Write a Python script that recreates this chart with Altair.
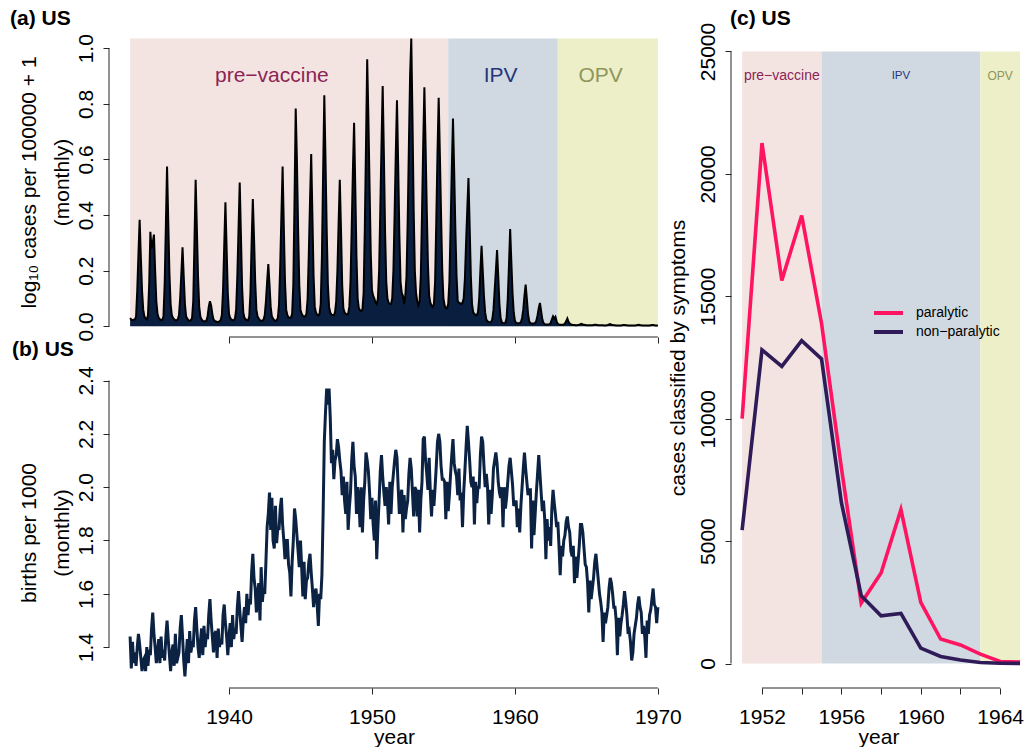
import altair as alt
import pandas as pd

FONT = "Liberation Sans"
AXIS_GREY = "#262626"

# ---------------------------------------------------------------- data
YEARS = list(range(1933, 1970))
MONTHS = list(range(1, 13))

# US monthly polio incidence, log10(cases per 100000 + 1); one line per year, Jan..Dec
cases_monthly = [
    0.030, 0.024, 0.022, 0.024, 0.025, 0.035, 0.130, 0.260, 0.383, 0.250, 0.130, 0.060,  # 1933
    0.035, 0.028, 0.025, 0.040, 0.150, 0.340, 0.280, 0.300, 0.330, 0.200, 0.090, 0.045,  # 1934
    0.030, 0.025, 0.022, 0.024, 0.035, 0.150, 0.360, 0.575, 0.380, 0.190, 0.080, 0.040,  # 1935
    0.030, 0.025, 0.022, 0.022, 0.025, 0.040, 0.100, 0.190, 0.284, 0.180, 0.080, 0.035,  # 1936
    0.028, 0.022, 0.020, 0.022, 0.030, 0.090, 0.300, 0.527, 0.360, 0.180, 0.070, 0.035,  # 1937
    0.025, 0.020, 0.018, 0.018, 0.020, 0.035, 0.070, 0.090, 0.075, 0.045, 0.025, 0.020,  # 1938
    0.018, 0.016, 0.016, 0.018, 0.022, 0.040, 0.130, 0.290, 0.446, 0.280, 0.120, 0.045,  # 1939
    0.030, 0.025, 0.022, 0.022, 0.028, 0.060, 0.180, 0.350, 0.517, 0.330, 0.140, 0.050,  # 1940
    0.030, 0.025, 0.022, 0.022, 0.035, 0.120, 0.300, 0.458, 0.320, 0.160, 0.060, 0.035,  # 1941
    0.028, 0.022, 0.020, 0.020, 0.025, 0.040, 0.090, 0.160, 0.224, 0.150, 0.070, 0.035,  # 1942
    0.028, 0.022, 0.020, 0.022, 0.030, 0.080, 0.220, 0.400, 0.575, 0.360, 0.160, 0.060,  # 1943
    0.040, 0.032, 0.030, 0.032, 0.045, 0.150, 0.450, 0.783, 0.600, 0.350, 0.150, 0.060,  # 1944
    0.045, 0.038, 0.035, 0.036, 0.045, 0.100, 0.260, 0.450, 0.620, 0.400, 0.180, 0.070,  # 1945
    0.050, 0.042, 0.040, 0.045, 0.080, 0.250, 0.550, 0.831, 0.600, 0.350, 0.150, 0.070,  # 1946
    0.050, 0.042, 0.040, 0.040, 0.050, 0.090, 0.200, 0.370, 0.527, 0.350, 0.150, 0.065,  # 1947
    0.050, 0.045, 0.042, 0.045, 0.070, 0.160, 0.350, 0.560, 0.732, 0.500, 0.250, 0.100,  # 1948
    0.065, 0.058, 0.055, 0.060, 0.120, 0.350, 0.650, 0.960, 0.750, 0.500, 0.260, 0.130,  # 1949
    0.110, 0.100, 0.085, 0.080, 0.100, 0.200, 0.420, 0.650, 0.864, 0.620, 0.340, 0.160,  # 1950
    0.100, 0.085, 0.080, 0.080, 0.100, 0.200, 0.400, 0.620, 0.813, 0.580, 0.330, 0.160,  # 1951
    0.120, 0.110, 0.080, 0.110, 0.180, 0.380, 0.650, 0.900, 1.035, 0.750, 0.420, 0.200,  # 1952
    0.120, 0.090, 0.076, 0.090, 0.180, 0.400, 0.650, 0.860, 0.650, 0.420, 0.220, 0.110,  # 1953
    0.085, 0.075, 0.070, 0.080, 0.160, 0.380, 0.620, 0.822, 0.620, 0.400, 0.200, 0.100,  # 1954
    0.075, 0.065, 0.065, 0.080, 0.160, 0.350, 0.560, 0.747, 0.560, 0.350, 0.180, 0.090,  # 1955
    0.085, 0.083, 0.080, 0.085, 0.100, 0.170, 0.300, 0.420, 0.533, 0.360, 0.180, 0.080,  # 1956
    0.050, 0.045, 0.040, 0.040, 0.050, 0.100, 0.200, 0.290, 0.200, 0.110, 0.050, 0.025,  # 1957
    0.018, 0.016, 0.015, 0.016, 0.025, 0.060, 0.130, 0.200, 0.274, 0.180, 0.080, 0.030,  # 1958
    0.014, 0.012, 0.011, 0.013, 0.030, 0.100, 0.220, 0.350, 0.230, 0.120, 0.050, 0.020,  # 1959
    0.012, 0.011, 0.011, 0.012, 0.015, 0.030, 0.060, 0.110, 0.150, 0.100, 0.045, 0.018,  # 1960
    0.011, 0.010, 0.010, 0.010, 0.012, 0.020, 0.040, 0.065, 0.084, 0.055, 0.025, 0.012,  # 1961
    0.008, 0.007, 0.007, 0.007, 0.008, 0.012, 0.025, 0.036, 0.028, 0.034, 0.018, 0.009,  # 1962
    0.007, 0.006, 0.006, 0.006, 0.007, 0.010, 0.018, 0.028, 0.016, 0.010, 0.007, 0.006,  # 1963
    0.005, 0.005, 0.004, 0.004, 0.005, 0.006, 0.008, 0.009, 0.007, 0.006, 0.005, 0.004,  # 1964
    0.004, 0.004, 0.004, 0.004, 0.004, 0.005, 0.006, 0.006, 0.005, 0.004, 0.004, 0.004,  # 1965
    0.004, 0.004, 0.003, 0.003, 0.004, 0.005, 0.007, 0.008, 0.006, 0.005, 0.004, 0.004,  # 1966
    0.003, 0.003, 0.003, 0.003, 0.003, 0.004, 0.005, 0.005, 0.004, 0.004, 0.003, 0.003,  # 1967
    0.003, 0.003, 0.003, 0.003, 0.003, 0.004, 0.005, 0.006, 0.004, 0.004, 0.003, 0.003,  # 1968
    0.003, 0.003, 0.003, 0.003, 0.003, 0.004, 0.005, 0.005, 0.004, 0.003, 0.003, 0.003,  # 1969
]

# US monthly births per 1000 population; one line per year, Jan..Dec
births_monthly = [
    1.44, 1.32, 1.42, 1.34, 1.38, 1.33, 1.40, 1.45, 1.41, 1.36, 1.31, 1.35,  # 1933
    1.36, 1.31, 1.40, 1.33, 1.39, 1.37, 1.47, 1.53, 1.45, 1.40, 1.34, 1.38,  # 1934
    1.43, 1.34, 1.44, 1.36, 1.39, 1.35, 1.44, 1.50, 1.43, 1.37, 1.31, 1.38,  # 1935
    1.41, 1.33, 1.45, 1.34, 1.36, 1.38, 1.47, 1.52, 1.44, 1.35, 1.29, 1.36,  # 1936
    1.43, 1.34, 1.46, 1.38, 1.41, 1.40, 1.50, 1.55, 1.47, 1.40, 1.36, 1.42,  # 1937
    1.47, 1.37, 1.48, 1.40, 1.45, 1.43, 1.52, 1.58, 1.50, 1.44, 1.38, 1.45,  # 1938
    1.46, 1.36, 1.47, 1.40, 1.43, 1.41, 1.52, 1.56, 1.49, 1.44, 1.37, 1.44,  # 1939
    1.49, 1.40, 1.52, 1.43, 1.47, 1.45, 1.55, 1.61, 1.54, 1.48, 1.42, 1.50,  # 1940
    1.55, 1.49, 1.60, 1.52, 1.58, 1.56, 1.68, 1.75, 1.66, 1.62, 1.53, 1.60,  # 1941
    1.64, 1.50, 1.70, 1.57, 1.62, 1.60, 1.72, 1.85, 1.90, 1.98, 1.84, 1.96,  # 1942
    1.80, 1.77, 1.93, 1.79, 1.85, 1.84, 1.92, 1.96, 1.86, 1.80, 1.73, 1.80,  # 1943
    1.80, 1.71, 1.68, 1.59, 1.72, 1.80, 1.92, 1.88, 1.82, 1.76, 1.70, 1.80,  # 1944
    1.70, 1.59, 1.72, 1.58, 1.65, 1.66, 1.72, 1.75, 1.68, 1.62, 1.55, 1.60,  # 1945
    1.62, 1.56, 1.48, 1.60, 1.58, 1.67, 1.90, 2.17, 2.28, 2.37, 2.31, 2.37,  # 1946
    2.26, 2.09, 2.14, 2.03, 2.10, 2.12, 2.18, 2.15, 2.10, 2.06, 1.97, 2.04,  # 1947
    1.95, 1.90, 2.02, 1.84, 1.92, 1.98, 2.10, 2.17, 2.08, 2.04, 1.90, 2.00,  # 1948
    1.96, 1.85, 2.00, 1.83, 1.95, 2.02, 2.13, 2.10, 2.06, 1.98, 1.88, 1.96,  # 1949
    1.86, 1.80, 1.95, 1.73, 1.85, 1.95, 2.06, 2.12, 2.04, 1.98, 1.93, 2.00,  # 1950
    1.95, 1.86, 2.02, 1.90, 2.00, 2.05, 2.10, 2.14, 2.11, 2.00, 1.90, 1.96,  # 1951
    1.99, 1.83, 1.97, 1.88, 1.92, 1.95, 2.05, 2.11, 2.07, 1.98, 1.89, 2.00,  # 1952
    1.99, 1.89, 1.99, 1.83, 1.95, 2.02, 2.18, 2.19, 2.10, 2.05, 1.99, 2.11,  # 1953
    1.98, 1.89, 1.99, 1.93, 2.00, 2.08, 2.17, 2.20, 2.17, 2.08, 2.03, 2.03,  # 1954
    2.02, 1.88, 2.02, 1.91, 1.97, 2.05, 2.12, 2.18, 2.09, 2.06, 2.04, 1.97,  # 1955
    2.07, 1.95, 1.98, 1.85, 1.98, 2.06, 2.15, 2.23, 2.17, 2.10, 2.02, 2.00,  # 1956
    2.04, 1.86, 2.02, 1.94, 2.00, 2.00, 2.12, 2.19, 2.17, 2.08, 2.00, 2.05,  # 1957
    2.00, 1.86, 1.99, 1.90, 1.97, 2.07, 2.10, 2.13, 2.09, 2.02, 1.98, 1.96,  # 1958
    2.00, 1.85, 2.00, 1.92, 1.96, 2.02, 2.08, 2.11, 2.06, 2.01, 1.93, 1.94,  # 1959
    1.95, 1.85, 1.92, 1.83, 1.93, 2.00, 2.07, 2.13, 2.07, 2.02, 1.97, 1.99,  # 1960
    1.99, 1.77, 1.95, 1.82, 1.90, 1.98, 2.05, 2.12, 2.05, 1.98, 1.91, 1.95,  # 1961
    1.88, 1.73, 1.88, 1.80, 1.85, 1.78, 1.92, 1.99, 1.94, 1.90, 1.85, 1.87,  # 1962
    1.78, 1.67, 1.78, 1.74, 1.80, 1.82, 1.87, 1.89, 1.85, 1.83, 1.76, 1.74,  # 1963
    1.78, 1.64, 1.74, 1.66, 1.72, 1.78, 1.86, 1.86, 1.83, 1.77, 1.71, 1.70,  # 1964
    1.64, 1.53, 1.65, 1.58, 1.62, 1.66, 1.72, 1.75, 1.70, 1.65, 1.60, 1.57,  # 1965
    1.53, 1.42, 1.53, 1.49, 1.52, 1.55, 1.62, 1.66, 1.64, 1.60, 1.55, 1.55,  # 1966
    1.50, 1.37, 1.51, 1.44, 1.49, 1.52, 1.56, 1.61, 1.57, 1.52, 1.45, 1.46,  # 1967
    1.42, 1.35, 1.38, 1.45, 1.48, 1.51, 1.56, 1.59, 1.55, 1.53, 1.45, 1.48,  # 1968
    1.44, 1.36, 1.50, 1.45, 1.52, 1.54, 1.58, 1.62, 1.56, 1.55, 1.49, 1.55,  # 1969
]

# US annual cases by symptom class
years_annual = list(range(1951, 1966))
paralytic = [10000, 21260, 15650, 18300, 13900, 8000, 2470, 3700, 6290, 2500,
             1000, 760, 385, 85, 60]
non_paralytic = [5450, 12810, 12140, 13190, 12440, 6580, 2770, 1950, 2045, 630,
                 290, 140, 40, 10, 5]

# vaccine eras
PERIODS = ["pre\u2212vaccine", "IPV", "OPV"]
period_start_monthly = [1933 + 1 / 12, 1955 + 4 / 12, 1963.0]
period_end_monthly = [1955 + 4 / 12, 1963.0, 1970.0]
period_label_x_monthly = [1943, 1959, 1966]
period_start_annual = [1951, 1955, 1963]
period_end_annual = [1955, 1963, 1965]
PERIOD_FILL = ["#F3E4E2", "#D0D9E2", "#EDEFC8"]
PERIOD_TEXT = ["#8B2454", "#26357A", "#8F955B"]
annual_label_size = [14, 11.5, 12]

PARALYTIC_COL = "#FF1461"
NONPARALYTIC_COL = "#2F1B57"
AREA_FILL = "#0A1F3F"
BIRTH_COL = "#0B2243"

# ---------------------------------------------------------------- layout (px)
# panels (a) and (b) share the left column; panel (c) is drawn in the same
# layer group as (a), on its own scales whose pixel ranges sit to the right.
A_W, A_H = 570, 310
B_H = 311
V_GAP = 40
C_X0, C_X1 = 622, 917          # horizontal pixel range of panel (c)
C_H = A_H + V_GAP + B_H        # panel (c) spans both rows
C_W = C_X1 - C_X0
Y_TITLE_X = -70                # first line of the two-line y titles


def r_range(lo, hi, frac=0.04):
    d = (hi - lo) * frac
    return [lo - d, hi + d]


times = [y + m / 12 for y in YEARS for m in MONTHS]
df_cases = pd.DataFrame({"t": times, "v": cases_monthly})
df_births = pd.DataFrame({"t": times, "v": births_monthly})
one = pd.DataFrame({"k": [0]})

x_scale_m = alt.Scale(domain=r_range(min(times), max(times)), nice=False, zero=False)


def title_text(label, dx, dy):
    return alt.Chart(pd.DataFrame({"txt": [label]})).mark_text(
        align="left", baseline="top", fontWeight="bold", fontSize=21,
        font=FONT, color="black"
    ).encode(x=alt.value(dx), y=alt.value(dy), text="txt:N")


def y_axis(values, fmt, title, height, title_x):
    return alt.Axis(
        values=values, format=fmt, title=title, titleAngle=270,
        titleAlign="center", titleBaseline="bottom", titleX=title_x,
        titleY=height / 2, titleLineHeight=33, orient="left",
    )


# ---------------------------------------------------------------- panel (a)
ya_scale = alt.Scale(domain=r_range(min(cases_monthly), max(cases_monthly)),
                     nice=False, zero=False)
xa_axis = alt.Axis(values=[1940, 1950, 1960, 1970], labels=False, title=None,
                   orient="bottom")
ya_axis = y_axis([0, 0.2, 0.4, 0.6, 0.8, 1.0], ".1f",
                 ["log\u2081\u2080 cases per 100000 + 1", "(monthly)"], A_H, Y_TITLE_X)


def XA(f):
    return alt.X(f, type="quantitative", scale=x_scale_m, axis=xa_axis)


def YA(f):
    return alt.Y(f, type="quantitative", scale=ya_scale, axis=ya_axis)


regions_a = pd.DataFrame({
    "period": PERIODS, "start": period_start_monthly, "end": period_end_monthly,
    "lo": 0.0, "hi": max(cases_monthly), "fill": PERIOD_FILL,
    "lx": period_label_x_monthly, "ly": 0.9, "tcol": PERIOD_TEXT,
})

shade_a = alt.Chart(regions_a).mark_rect().encode(
    x=XA("start"), x2="end", y=YA("lo"), y2="hi",
    color=alt.Color("fill:N", scale=None),
)
area_a = alt.Chart(df_cases).mark_area(color=AREA_FILL, opacity=1).encode(
    x=XA("t"), y=YA("v"), y2=alt.datum(0)
)
line_a = alt.Chart(df_cases).mark_line(color="black", strokeWidth=2).encode(
    x=XA("t"), y=YA("v")
)
labels_a = alt.Chart(regions_a).mark_text(
    font=FONT, fontSize=21, align="center", baseline="middle"
).encode(x=XA("lx"), y=YA("ly"), text="period:N",
         color=alt.Color("tcol:N", scale=None))
xline_a = alt.Chart(one).mark_rule(color=AXIS_GREY, strokeWidth=1).encode(
    x=alt.datum(1940), x2=alt.datum(1970), y=alt.value(A_H))
yline_a = alt.Chart(one).mark_rule(color=AXIS_GREY, strokeWidth=1).encode(
    y=alt.datum(0.0), y2=alt.datum(1.0), x=alt.value(0))

layer_a = alt.layer(
    shade_a, area_a, line_a, labels_a, xline_a, yline_a,
    title_text("(a) US", -99, -19),
)

# ---------------------------------------------------------------- panel (c)
xc_scale = alt.Scale(domain=[r_range(1951, 1965)[0], 1965.3], nice=False,
                     zero=False, range=[C_X0, C_X1])
yc_scale = alt.Scale(domain=r_range(0, 25000), nice=False, zero=False,
                     range=[C_H, 0])
xc_axis = alt.Axis(values=list(range(1952, 1965, 2)), format="d", title="year",
                   labelExpr="datum.value % 4 == 0 ? datum.label : ''",
                   titleBaseline="alphabetic", titleX=C_X0 + C_W / 2, titleY=55,
                   orient="bottom", offset=C_H - A_H)
yc_axis = alt.Axis(values=[0, 5000, 10000, 15000, 20000, 25000], format="d",
                   title="cases classified by symptoms", titleAngle=270,
                   titleAlign="center", titleBaseline="bottom", titleX=-43,
                   titleY=C_H / 2, orient="left", offset=-C_X0)


def XC(f):
    return alt.X(f, type="quantitative", scale=xc_scale, axis=xc_axis)


def YC(f):
    return alt.Y(f, type="quantitative", scale=yc_scale, axis=yc_axis)


regions_c = pd.DataFrame({
    "period": PERIODS, "start": period_start_annual, "end": period_end_annual,
    "lo": 0, "hi": 25000, "fill": PERIOD_FILL, "tcol": PERIOD_TEXT,
    "fs": annual_label_size,
})
regions_c["lx"] = (regions_c["start"] + regions_c["end"]) / 2
regions_c["ly"] = 24000

df_c = pd.DataFrame({
    "year": years_annual * 2,
    "cases": paralytic + non_paralytic,
    "series": ["paralytic"] * len(years_annual) + ["non\u2212paralytic"] * len(years_annual),
    "col": [PARALYTIC_COL] * len(years_annual) + [NONPARALYTIC_COL] * len(years_annual),
})

shade_c = alt.Chart(regions_c).mark_rect().encode(
    x=XC("start"), x2="end", y=YC("lo"), y2="hi",
    color=alt.Color("fill:N", scale=None),
)
labels_c = alt.Chart(regions_c).mark_text(
    font=FONT, align="center", baseline="middle"
).encode(x=XC("lx"), y=YC("ly"), text="period:N",
         color=alt.Color("tcol:N", scale=None), size=alt.Size("fs:Q", scale=None))
lines_c = alt.Chart(df_c).mark_line(strokeWidth=3.6).encode(
    x=XC("year"), y=YC("cases"), detail="series:N",
    color=alt.Color("col:N", scale=None),
    order=alt.Order("year:Q"),
)


def legend_row(label, colour, ypix):
    seg = alt.Chart(one).mark_rule(color=colour, strokeWidth=4).encode(
        x=alt.value(C_X0 + 143), x2=alt.value(C_X0 + 172), y=alt.value(ypix))
    txt = alt.Chart(pd.DataFrame({"txt": [label]})).mark_text(
        align="left", baseline="middle", font=FONT, fontSize=14, color="black"
    ).encode(x=alt.value(C_X0 + 185), y=alt.value(ypix), text="txt:N")
    return [seg, txt]


xline_c = alt.Chart(one).mark_rule(color=AXIS_GREY, strokeWidth=1).encode(
    x=alt.datum(1952), x2=alt.datum(1964), y=alt.value(C_H))
yline_c = alt.Chart(one).mark_rule(color=AXIS_GREY, strokeWidth=1).encode(
    y=alt.datum(0), y2=alt.datum(25000), x=alt.value(C_X0))

layer_c = alt.layer(
    shade_c, labels_c, lines_c,
    *legend_row("paralytic", PARALYTIC_COL, 286),
    *legend_row("non\u2212paralytic", NONPARALYTIC_COL, 305),
    xline_c, yline_c, title_text("(c) US", C_X0 - 1, -19),
)

top_row = alt.layer(layer_a, layer_c).resolve_scale(
    x="independent", y="independent"
).resolve_axis(
    x="independent", y="independent"
).properties(width=A_W, height=A_H)

# ---------------------------------------------------------------- panel (b)
yb_scale = alt.Scale(domain=r_range(min(births_monthly), max(births_monthly)),
                     nice=False, zero=False)
xb_axis = alt.Axis(values=[1940, 1950, 1960, 1970], format="d", title="year",
                   titleBaseline="alphabetic", titleX=A_W / 2, titleY=55,
                   orient="bottom")
yb_axis = y_axis([1.4, 1.6, 1.8, 2.0, 2.2, 2.4], ".1f",
                 ["births per 1000", "(monthly)"], B_H, Y_TITLE_X)

line_b = alt.Chart(df_births).mark_line(color=BIRTH_COL, strokeWidth=3).encode(
    x=alt.X("t:Q", scale=x_scale_m, axis=xb_axis),
    y=alt.Y("v:Q", scale=yb_scale, axis=yb_axis),
)
xline_b = alt.Chart(one).mark_rule(color=AXIS_GREY, strokeWidth=1).encode(
    x=alt.datum(1940), x2=alt.datum(1970), y=alt.value(B_H))
yline_b = alt.Chart(one).mark_rule(color=AXIS_GREY, strokeWidth=1).encode(
    y=alt.datum(1.4), y2=alt.datum(2.4), x=alt.value(0))

panel_b = alt.layer(
    line_b, xline_b, yline_b, title_text("(b) US", -97, -38)
).properties(width=A_W, height=B_H)

# ---------------------------------------------------------------- assemble
chart = alt.vconcat(top_row, panel_b, spacing=V_GAP, bounds="flush").properties(
    padding={"left": 10, "top": 8, "right": 0, "bottom": 0},
    background="white",
).configure_view(strokeWidth=0).configure_axis(
    labelFont=FONT, titleFont=FONT, labelFontSize=21, titleFontSize=21,
    labelColor="black", titleColor="black", titleFontWeight="normal",
    tickColor=AXIS_GREY, tickSize=6, tickWidth=1, domain=False, grid=False,
    labelFlush=False, labelOverlap=False,
).configure_axisLeft(
    labelAngle=270, labelAlign="center", labelBaseline="alphabetic", labelPadding=11,
).configure_axisBottom(
    labelAngle=0, labelAlign="center", labelBaseline="top", labelPadding=12,
)

chart.save("out.html", embed_options={"renderer": "svg", "actions": False})
